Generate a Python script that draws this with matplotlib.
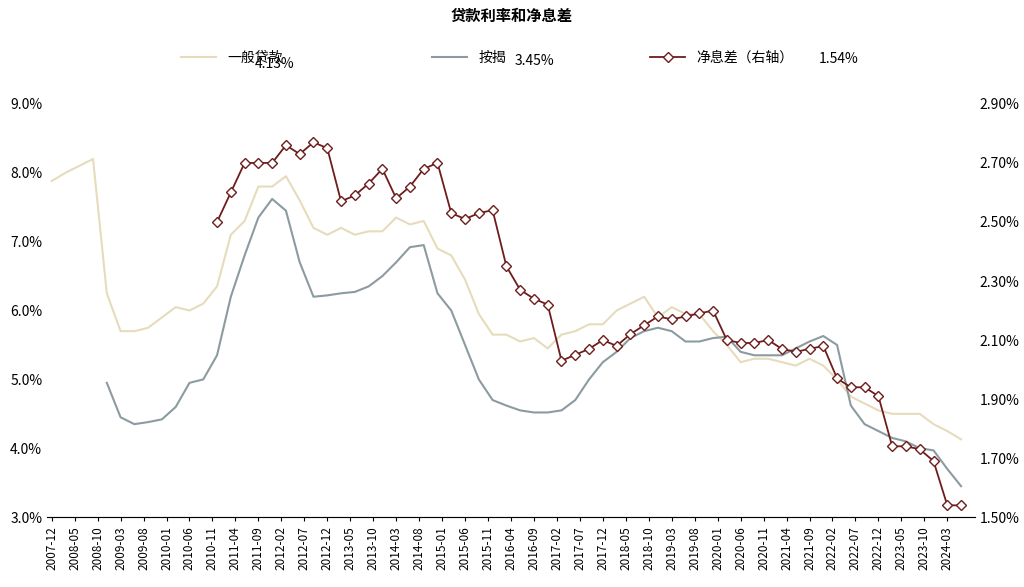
import matplotlib.pyplot as plt
import matplotlib.ticker as mtick
import numpy as np

plt.rcParams['font.family'] = ['Noto Sans CJK SC', 'DejaVu Sans']

# quarterly data, months counted from 2007-12
general = [7.88, 8.0, 8.1, 8.2, 6.25, 5.70, 5.70, 5.75, 5.90, 6.05, 6.0, 6.1, 6.35,
           7.1, 7.3, 7.8, 7.8, 7.95, 7.6, 7.2, 7.1, 7.2, 7.1, 7.15, 7.15,
           7.35, 7.25, 7.3, 6.9, 6.8, 6.45, 5.95, 5.65, 5.65, 5.55, 5.6, 5.45,
           5.65, 5.7, 5.8, 5.8, 6.0, 6.1, 6.2, 5.9, 6.05, 5.95, 5.95, 5.7,
           5.5, 5.25, 5.3, 5.3, 5.25, 5.2, 5.3, 5.2, 5.0, 4.75, 4.65, 4.55,
           4.5, 4.5, 4.5, 4.35, 4.25, 4.13]
mortgage = [4.95, 4.45, 4.35, 4.38, 4.42, 4.6, 4.95, 5.0, 5.35, 6.2, 6.8, 7.35, 7.62,
            7.45, 6.7, 6.2, 6.22, 6.25, 6.27, 6.35, 6.5, 6.7, 6.92, 6.95, 6.25,
            6.0, 5.5, 5.0, 4.7, 4.62, 4.55, 4.52, 4.52, 4.55, 4.7, 5.0, 5.25,
            5.4, 5.6, 5.7, 5.75, 5.7, 5.55, 5.55, 5.6, 5.62, 5.4, 5.35, 5.35,
            5.35, 5.45, 5.55, 5.63, 5.5, 4.62, 4.35, 4.25, 4.15, 4.1, 4.0, 3.97,
            3.7, 3.45]
nim = [2.50, 2.60, 2.70, 2.70, 2.70, 2.76, 2.73, 2.77, 2.75, 2.57, 2.59, 2.63, 2.68,
       2.58, 2.62, 2.68, 2.70, 2.53, 2.51, 2.53, 2.54, 2.35, 2.27, 2.24, 2.22,
       2.03, 2.05, 2.07, 2.10, 2.08, 2.12, 2.15, 2.18, 2.17, 2.18, 2.19, 2.20,
       2.10, 2.09, 2.09, 2.10, 2.07, 2.06, 2.07, 2.08, 1.97, 1.94, 1.94, 1.91,
       1.74, 1.74, 1.73, 1.69, 1.54, 1.54]

x_gen = np.arange(len(general)) * 3
x_mort = 12 + np.arange(len(mortgage)) * 3
x_nim = 36 + np.arange(len(nim)) * 3

tick_pos = np.arange(0, 196, 5)
tick_lab = []
for m in tick_pos:
    y = 2007 + (11 + m) // 12
    mo = (11 + m) % 12 + 1
    tick_lab.append('%d-%02d' % (y, mo))

fig, ax = plt.subplots(figsize=(10.24, 5.87), dpi=100)
fig.subplots_adjust(left=0.046, right=0.952, top=0.823, bottom=0.119)
ax2 = ax.twinx()

l1, = ax.plot(x_gen, general, color='#e6dcbc', lw=1.5)
l2, = ax.plot(x_mort, mortgage, color='#8c9ba0', lw=1.5)
l3, = ax2.plot(x_nim, nim, color='#6e1c1c', lw=1.3, marker='D', ms=5,
               mfc='white', mec='#6e1c1c', mew=1)

ax.set_ylim(3, 9)
ax.yaxis.set_major_formatter(mtick.FormatStrFormatter('%.1f%%'))
ax2.set_ylim(1.5, 2.9)
ax2.set_yticks(np.arange(1.5, 2.91, 0.2))
ax2.yaxis.set_major_formatter(mtick.FormatStrFormatter('%.2f%%'))
ax.set_xlim(-1, 201)
ax.set_xticks(tick_pos)
ax.set_xticklabels(tick_lab, rotation=90, fontsize=8.5)
ax.tick_params(axis='y', labelsize=10, length=0)
ax2.tick_params(axis='y', labelsize=10, length=0)
ax.tick_params(axis='x', length=3)
for a in (ax, ax2):
    for s in ('top', 'left', 'right'):
        a.spines[s].set_visible(False)
ax.spines['bottom'].set_color('#888888')

fig.text(0.5, 0.965, '贷款利率和净息差', ha='center', fontsize=11, fontweight='bold')
# one legend per entry so each can sit where the reference has it
for h, lab, xa in [(l1, '一般贷款', 0.165), (l2, '按揭', 0.41), (l3, '净息差（右轴）', 0.623)]:
    fig.legend([h], [lab], loc='upper left', bbox_to_anchor=(xa, 0.935),
               frameon=False, fontsize=10, handlelength=2.5)
fig.text(0.249, 0.885, '4.13%', fontsize=10)
fig.text(0.503, 0.89, '3.45%', fontsize=10)
fig.text(0.80, 0.893, '1.54%', fontsize=10)

fig.savefig('out.png')
